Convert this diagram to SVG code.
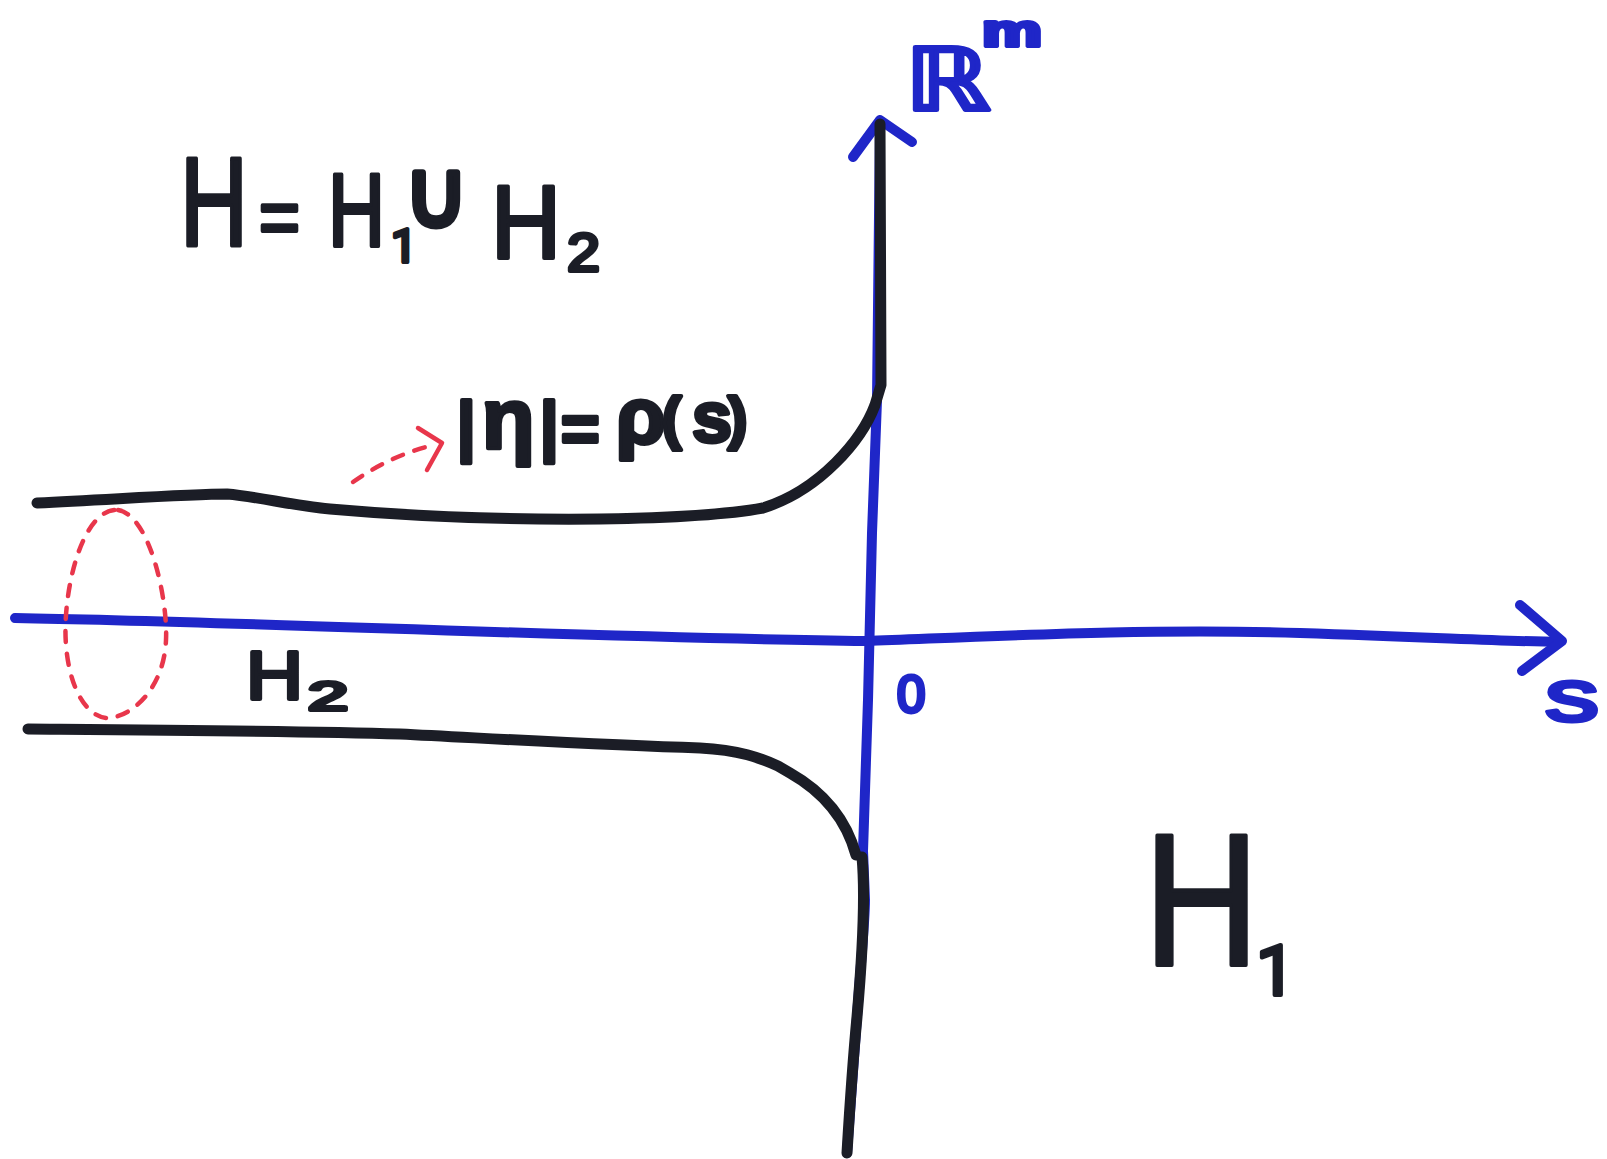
<svg xmlns="http://www.w3.org/2000/svg" width="1607" height="1159" viewBox="0 0 1607 1159">
<style>
.ink{fill:none;stroke:#1b1d26;stroke-width:11;stroke-linecap:round;stroke-linejoin:round}
.axis{fill:none;stroke:#1f26c8;stroke-width:10;stroke-linecap:round;stroke-linejoin:round}
.red{fill:none;stroke:#e8364b;stroke-width:4.5;stroke-linecap:round;stroke-linejoin:round}
.dash{stroke-dasharray:11 12}
.tk{font-family:"Liberation Sans",Arial,sans-serif;fill:#1b1d26;stroke:#1b1d26;stroke-width:4;stroke-linejoin:round}
.tb{font-family:"Liberation Sans",Arial,sans-serif;fill:#1f26c8;stroke:#1f26c8;stroke-width:4;stroke-linejoin:round}
.one{font-family:Roboto,"Liberation Sans",sans-serif}
</style>
<rect width="1607" height="1159" fill="#ffffff"/>
<g id="connectors">
  <path id="s-axis" class="axis" d="M15,618 C250,622 600,638 866,641 C1000,636 1150,628 1300,633 S1500,641 1560,642"/>
  <path id="s-axis-head" class="axis" d="M1520,605 L1562,641 L1522,671"/>
  <path id="r-axis" class="axis" d="M847,1153 C851,1100 855,1050 857,1017 C861,960 865,920 865,900 L863,851 L868,700 L872,533 L877,400 L880,125"/>
  <path id="r-axis-head" class="axis" d="M853,157 L880,120 L912,142"/>
  <path id="pointer" class="red dash" d="M353,482 Q390,456 430,446"/>
  <path id="pointer-head" class="red" d="M418,428 L442,443 L427,470"/>
</g>
<g id="boundary-upper">
  <path class="ink" d="M37,503 C120,499 190,494 227,494 C260,497 290,505 330,509 C420,517 500,520 600,519 C660,518 720,516 763,508 C820,490 862,440 875,405 L881,385 L880,124"/>
</g>
<g id="boundary-lower">
  <path class="ink" d="M28,729 C150,730 300,731 400,734 C500,739 600,745 700,748 C740,750 760,758 778,766 L790,773 C820,790 845,815 856,855"/>
  <path class="ink" d="M862,857 C866,900 862,960 857,1017 C852,1070 849,1120 847,1153"/>
</g>
<g id="cross-section">
  <path class="red dash" d="M118,510 C150,515 168,600 166,640 C164,690 130,718 107,718 C80,716 62,670 66,615 C70,560 90,508 118,510 Z"/>
</g>
<g id="formula">
  <text class="tk"><tspan x="180" y="245" font-size="126" textLength="68" lengthAdjust="spacingAndGlyphs">H</tspan><tspan x="259" y="244" font-size="80" textLength="41" lengthAdjust="spacingAndGlyphs">=</tspan><tspan x="328" y="246" font-size="103" textLength="57" lengthAdjust="spacingAndGlyphs">H</tspan><tspan class="one" x="391" y="262" font-size="46">1</tspan><tspan x="404" y="226" font-size="92" font-family="DejaVu Sans,sans-serif" stroke-width="7" textLength="64" lengthAdjust="spacingAndGlyphs">∪</tspan><tspan x="491" y="258" font-size="103" textLength="70" lengthAdjust="spacingAndGlyphs">H</tspan><tspan x="567" y="271" font-size="54" textLength="33" lengthAdjust="spacingAndGlyphs">2</tspan></text>
</g>
<g id="label-rho">
  <text class="tk" font-weight="bold" stroke-width="2"><tspan x="457" y="448" font-size="66">|</tspan><tspan x="482" y="448" font-size="86">η</tspan><tspan x="540" y="448" font-size="66">|</tspan><tspan x="561" y="452" font-size="66">=</tspan><tspan x="616" y="443" font-size="80">ρ</tspan><tspan x="662" y="438" font-size="58">(</tspan><tspan x="692" y="442" font-size="72">s</tspan><tspan x="728" y="438" font-size="58">)</tspan></text>
</g>
<g id="label-Rm">
  <text class="tb"><tspan x="905" y="110" font-size="86" font-family="DejaVu Sans,sans-serif" textLength="86" lengthAdjust="spacingAndGlyphs">ℝ</tspan><tspan x="982" y="46" font-size="44" font-weight="bold" textLength="60" lengthAdjust="spacingAndGlyphs">m</tspan></text>
</g>
<g id="label-0">
  <text class="tb" x="897" y="712" font-size="51">0</text>
</g>
<g id="label-s">
  <text class="tb" x="1545" y="721" font-size="74" stroke-width="3" textLength="54" lengthAdjust="spacingAndGlyphs">s</text>
</g>
<g id="label-H2">
  <text class="tk"><tspan x="246" y="699" font-size="68" textLength="57" lengthAdjust="spacingAndGlyphs">H</tspan><tspan x="308" y="710" font-size="40" textLength="40" lengthAdjust="spacingAndGlyphs">2</tspan></text>
</g>
<g id="label-H1">
  <text class="tk" stroke-width="1"><tspan x="1144" y="965" font-size="187" textLength="115" lengthAdjust="spacingAndGlyphs">H</tspan><tspan class="one" x="1256" y="995" font-size="70">1</tspan></text>
</g>
</svg>
